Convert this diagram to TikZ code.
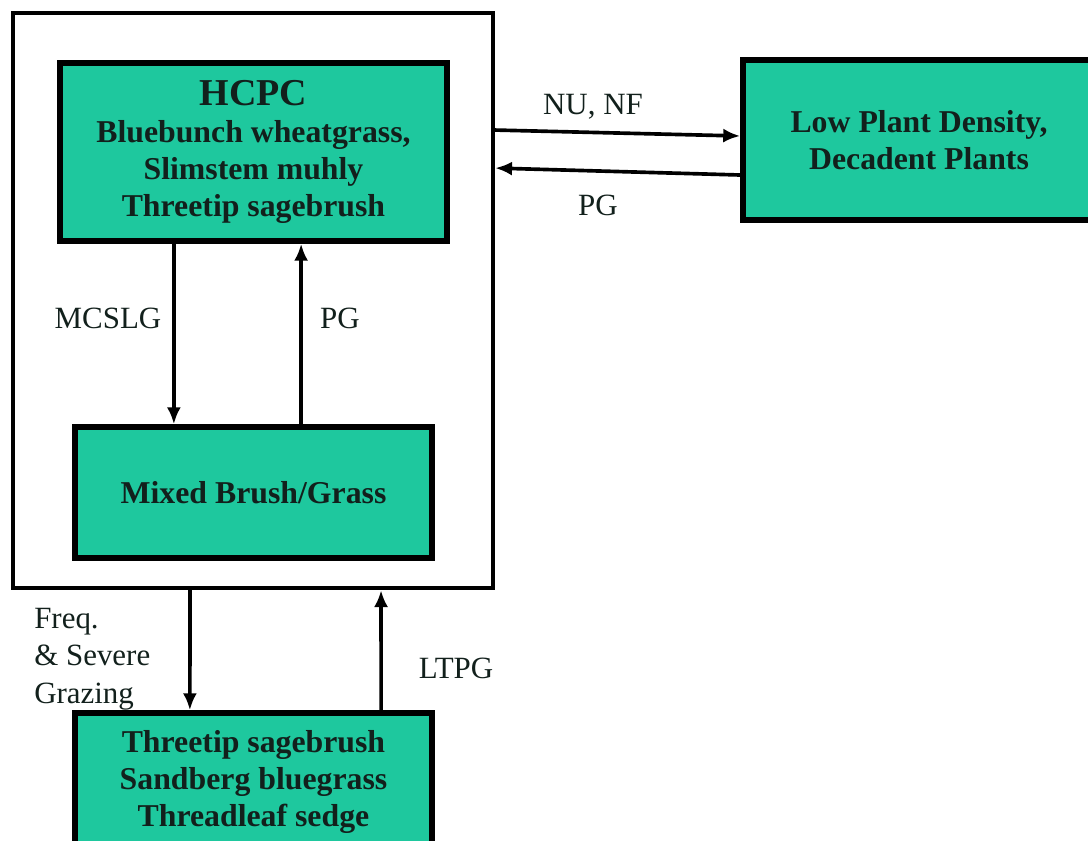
\documentclass[tikz,border=0pt]{standalone}
\usepackage{fontspec}
\setmainfont{Liberation Serif}
\usetikzlibrary{arrows.meta}
\definecolor{stategreen}{RGB}{30,200,158}
\definecolor{statetext}{RGB}{18,32,28}
\tikzset{
	statebox/.style={draw=black, line width=4pt, fill=stategreen, text=statetext,
		font=\fontsize{22.6}{26.5}\selectfont\bfseries, align=center, inner sep=0pt},
	flow/.style={line width=2.6pt, -{Latex[length=12pt,width=10pt]}},
	lbl/.style={font=\fontsize{22}{26.5}\selectfont, text=statetext, inner sep=0pt}
}
\begin{document}
\begin{tikzpicture}[x=0.025cm,y=-0.025cm]
	\useasboundingbox (0,0) rectangle (1088,841);
	\node[draw, line width=3pt, minimum width=12cm, minimum height=14.375cm] (outer) at (253,300.5) {};
	\node[statebox, minimum width=9.675cm, minimum height=4.45cm] (hcpc) at (253.5,152)
		{{\fontsize{27}{26.5}\selectfont HCPC}\\Bluebunch wheatgrass,\\Slimstem muhly\\Threetip sagebrush};
	\node[statebox, minimum width=8.925cm, minimum height=3.275cm] (mixed) at (253.5,492.5) {Mixed Brush/Grass};
	\node[statebox, minimum width=8.925cm, minimum height=3.45cm] (degraded) at (253.5,782)
		{Threetip sagebrush\\Sandberg bluegrass\\Threadleaf sedge};
	\node[statebox, minimum width=8.8cm, minimum height=4cm] (lowdens) at (919,140)
		{Low Plant Density,\\Decadent Plants};
	\draw[flow] ([xshift=-1.99cm]hcpc.south) -- ([xshift=-1.99cm]mixed.north);
	\draw[flow] ([xshift=1.19cm]mixed.north) -- ([xshift=1.19cm]hcpc.south);
	\draw[flow] ([xshift=-1.575cm]outer.south) -- ([xshift=-1.59cm]degraded.north);
	\draw[flow] ([xshift=3.19cm]degraded.north) -- ([xshift=3.2cm]outer.south);
	\draw[flow] ([yshift=4.26cm]outer.east) -- ([yshift=0.1cm]lowdens.west);
	\draw[flow] ([yshift=-0.875cm]lowdens.west) -- ([yshift=3.31cm]outer.east);
	\node[lbl] (mcslg) at (108,318) {MCSLG};
	\node[lbl] (pgup) at (340,318) {PG};
	\node[lbl] (nunf) at (593,107) {NU, NF};
	\node[lbl] (pgback) at (598,205) {PG};
	\node[lbl, align=left, anchor=west] (freq) at (34,659) {Freq.\\\& Severe\\Grazing};
	\node[lbl] (ltpg) at (456,668) {LTPG};
\end{tikzpicture}
\end{document}
